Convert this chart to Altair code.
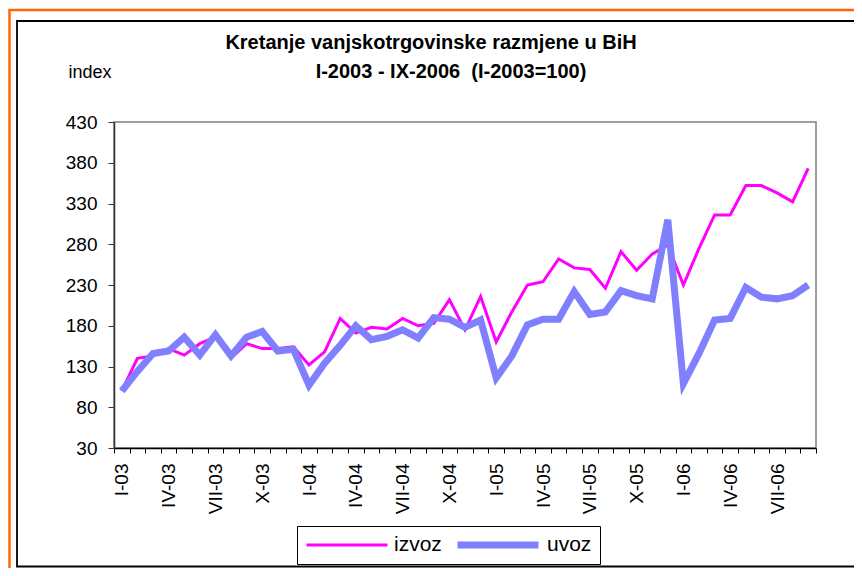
import json
import altair as alt
import pandas as pd

# ---- categories ----
ROMAN = ["I", "II", "III", "IV", "V", "VI", "VII", "VIII", "IX", "X", "XI", "XII"]
YEARS = ["03", "04", "05", "06"]
MONTHS = [f"{r}-{y}" for y in YEARS for r in ROMAN][:45]
LABELED = ["I-03", "IV-03", "VII-03", "X-03", "I-04", "IV-04", "VII-04", "X-04",
           "I-05", "IV-05", "VII-05", "X-05", "I-06", "IV-06", "VII-06"]

# ---- series values (index, I-2003 = 100) ----
IZVOZ = [100, 140, 143, 152, 144, 158, 166, 140, 158, 152, 152, 154,
         132, 148, 189, 171, 178, 176, 189, 180, 183, 212, 175, 216,
         160, 197, 230, 234, 262, 251, 249, 226, 271, 248, 268, 279,
         230, 275, 316, 316, 352, 352, 343, 332, 373]
UVOZ = [100, 124, 146, 149, 166, 144, 169, 143, 166, 173, 149, 151,
        107, 134, 156, 180, 163, 167, 175, 165, 190, 188, 178, 187,
        116, 143, 181, 188, 188, 222, 194, 197, 223, 217, 213, 310,
        109, 146, 187, 189, 227, 215, 213, 217, 230]

SERIES = ["izvoz", "uvoz"]
COLORS = ["#FF00FF", "#8080FF"]
WIDTHS = [3, 7]
Y_TICKS = [30, 80, 130, 180, 230, 280, 330, 380, 430]
TITLE_1 = "Kretanje vanjskotrgovinske razmjene u BiH"
TITLE_2 = "I-2003 - IX-2006 \u00a0(I-2003=100)"
Y_TITLE = "index"

rows = []
for name, vals in zip(SERIES, [IZVOZ, UVOZ]):
    for m, v in zip(MONTHS, vals):
        rows.append({"month": m, "series": name, "value": v})
df = pd.DataFrame(rows)

FONT = "Liberation Sans"
label_expr = "indexof(" + json.dumps(LABELED) + ", datum.value) >= 0 ? datum.value : ''"

frame_data = alt.Data(values=[{"k": 0}])
orange = alt.Chart(frame_data).mark_rect(
    fill="transparent", stroke="#FF6600", strokeWidth=2.5
).encode(x=alt.value(-104.5), x2=alt.value(760), y=alt.value(-112), y2=alt.value(600))
black = alt.Chart(frame_data).mark_rect(
    fill="transparent", stroke="#000000", strokeWidth=1.8
).encode(x=alt.value(-97), x2=alt.value(760), y=alt.value(-101), y2=alt.value(444.5))

title1 = alt.Chart(alt.Data(values=[{"t": TITLE_1}])).mark_text(
    font=FONT, fontSize=20, fontWeight="bold", color="black",
    align="center", baseline="alphabetic",
).encode(text="t:N", x=alt.value(317), y=alt.value(-73))
title2 = alt.Chart(alt.Data(values=[{"t": TITLE_2}])).mark_text(
    font=FONT, fontSize=20, fontWeight="bold", color="black",
    align="center", baseline="alphabetic",
).encode(text="t:N", x=alt.value(337), y=alt.value(-44))

lines = alt.Chart(df).mark_line(strokeJoin="miter").encode(
    x=alt.X(
        "month:N", sort=MONTHS,
        scale=alt.Scale(type="band", paddingInner=0, paddingOuter=0),
        axis=alt.Axis(
            title=None, labelExpr=label_expr, labelAngle=270, tickBand="extent",
            labelOverlap=False, labelFontSize=19, labelFont=FONT, labelColor="black",
            labelPadding=10, tickSize=5, tickColor="black", domainColor="black",
            domainWidth=1.5, grid=False,
        ),
    ),
    y=alt.Y(
        "value:Q",
        scale=alt.Scale(domain=[30, 430], nice=False, zero=False),
        axis=alt.Axis(
            values=Y_TICKS, title=Y_TITLE, titleAngle=0, titleX=-46, titleY=-50,
            titleAlign="left", titleBaseline="middle", titleFontWeight="normal",
            titleFontSize=18, titleFont=FONT, titleColor="black",
            labelFontSize=19, labelFont=FONT, labelColor="black", labelPadding=11,
            tickSize=6, tickColor="#333333", domainColor="#333333", domainWidth=1.5,
            grid=False,
        ),
    ),
    color=alt.Color(
        "series:N",
        scale=alt.Scale(domain=SERIES, range=COLORS),
        legend=alt.Legend(
            orient="none", legendX=183, legendY=404, direction="horizontal",
            title=None, symbolType="stroke", symbolSize=6561, clipHeight=22,
            labelFontSize=21, labelFont=FONT, labelColor="black", padding=8,
            strokeColor="black", fillColor="white", columnPadding=12, labelOffset=5,
        ),
    ),
    strokeWidth=alt.StrokeWidth(
        "series:N",
        scale=alt.Scale(type="point", domain=SERIES, range=WIDTHS, padding=0),
    ),
)

chart = alt.layer(orange, black, title1, title2, lines).properties(
    width=702, height=326,
    padding={"left": 106, "top": 114, "right": 38, "bottom": 120},
    autosize=alt.AutoSizeParams(type="none"),
    background="white",
).configure_view(stroke="#808080", strokeWidth=1.5)

chart.save("out.html", embed_options={"renderer": "svg", "actions": False})
